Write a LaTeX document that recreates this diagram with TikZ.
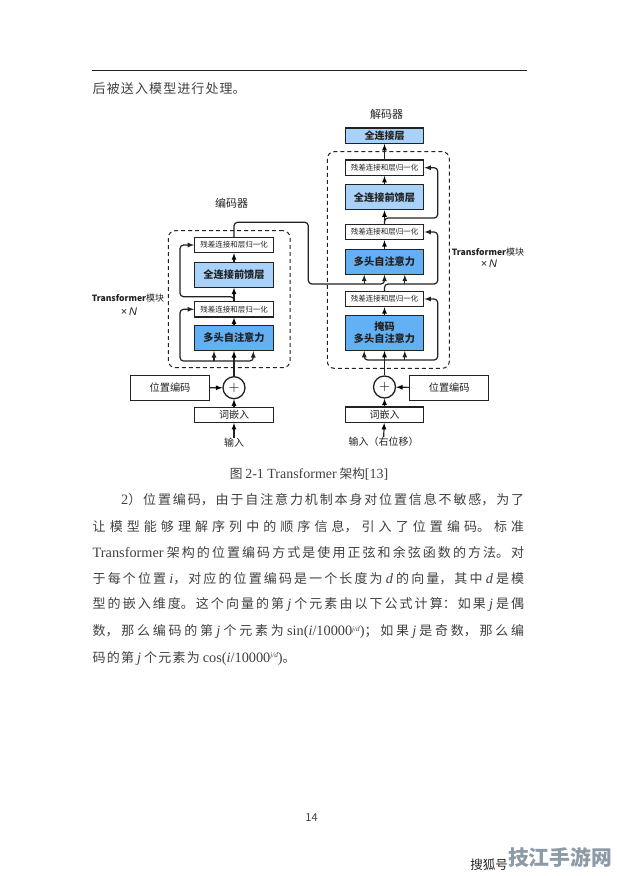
\documentclass[tikz,border=0pt]{standalone}
\usepackage{fontspec}
\setmainfont{Noto Sans CJK SC}
\newfontfamily\latinserif[Scale=1.1]{Liberation Serif}
\newfontfamily\latinsans{Liberation Sans}
\XeTeXlinebreaklocale "zh"
\XeTeXlinebreakskip=0pt plus 12pt
\usetikzlibrary{arrows}
\definecolor{inkdark}{HTML}{222222}
\definecolor{pagetext}{HTML}{404040}
\definecolor{attnblue}{HTML}{64B0F4}
\definecolor{ffnblue}{HTML}{A9D2FA}
\definecolor{markgray}{HTML}{8C9BA6}
\newcommand{\fitline}[2]{\vbox{\hsize=#1\parindent=0pt\parfillskip=0pt\tolerance=10000\emergencystretch=40pt #2\par}}
\newcommand{\lat}[1]{\mbox{\latinserif #1}}
\newcommand{\ita}[1]{\mbox{\latinserif\itshape #1}}
\newcommand{\powjd}{\raisebox{4.5pt}{\fontsize{6.5}{7}\selectfont\ita{j/d}}}
\newcommand{\modulename}{{\bfseries\fontsize{8.6}{10}\selectfont Transformer}{\fontsize{9}{10}\selectfont 模块}}
\newcommand{\timesn}{{\latinsans\fontsize{11}{12}\selectfont ×\,\itshape N}}
\tikzset{
  >=latex,
  wire/.style={draw=inkdark,line width=1.2pt},
  rc/.style={rounded corners=3.5pt},
  plainbox/.style={draw=inkdark,line width=1.2pt,fill=white,minimum width=78.7pt,minimum height=15.3pt,inner sep=0pt,text=inkdark,font=\fontsize{10}{11}\selectfont},
  normbox/.style={plainbox,font=\fontsize{7.5}{8}\selectfont},
  ffnbox/.style={plainbox,fill=ffnblue,minimum height=25pt,font=\bfseries\fontsize{10.2}{12}\selectfont},
  attnbox/.style={plainbox,fill=attnblue,minimum height=25pt,font=\bfseries\fontsize{10.2}{12}\selectfont},
  posbox/.style={plainbox,minimum height=24.7pt,font=\fontsize{10.2}{11}\selectfont},
  plusnode/.style={draw=inkdark,circle,line width=1.3pt,minimum size=22pt,inner sep=0pt,fill=white,font=\fontsize{15}{15}\selectfont},
  blockbox/.style={draw=inkdark,dash pattern=on 4pt off 3pt,line width=1pt,rounded corners=7pt},
  caption/.style={text=inkdark,inner sep=0pt,font=\fontsize{10}{11}\selectfont},
  bodytext/.style={anchor=west,inner sep=0pt,text=pagetext,font=\fontsize{13}{14}\selectfont},
}
\begin{document}
\begin{tikzpicture}[x=1pt,y=-1pt]
  \useasboundingbox (0,0) rectangle (617,876);
  \coordinate (ruleleft) at (92,70);
  \coordinate (ruleright) at (527,70);
  \draw[inkdark,line width=1pt] (ruleleft) -- (ruleright);
  \node[bodytext] (lead) at (92.5,88.5) {\fitline{153pt}{后被送入模型进行处理。}};

  \node[blockbox,minimum width=121.7pt,minimum height=137pt] (eblock) at (229.2,299.2) {};
  \node[blockbox,minimum width=122pt,minimum height=216.6pt] (dblock) at (388.3,260) {};

  \node[plainbox] (eembed) at (234,414.8) {词嵌入};
  \node[plusnode,above of=eembed,node distance=27.1pt] (eplus) {$+$};
  \node[attnbox,above of=eplus,node distance=49.7pt] (emha) {多头自注意力};
  \node[normbox,above of=emha,node distance=28.7pt] (enorma) {残差连接和层归一化};
  \node[ffnbox,above of=enorma,node distance=34.6pt] (effn) {全连接前馈层};
  \node[normbox,above of=effn,node distance=29.7pt] (enormb) {残差连接和层归一化};
  \node[posbox] (epos) at (170,388) {位置编码};
  \node[caption] (einput) at (234,442.7) {输入};
  \node[caption,font=\fontsize{11}{12}\selectfont] (etitle) at (231.7,203.3) {编码器};
  \node[caption] (elabel) at (128,298) {\modulename};
  \node[caption] (etimes) at (129,311.5) {\timesn};

  \node[plainbox] (dembed) at (384.5,414.7) {词嵌入};
  \node[plusnode,above of=dembed,node distance=27.7pt] (dplus) {$+$};
  \node[attnbox,above of=dplus,node distance=54pt,minimum height=34.7pt,align=center] (dmask) {掩码\\多头自注意力};
  \node[normbox,above of=dmask,node distance=34pt] (dnorma) {残差连接和层归一化};
  \node[attnbox,above of=dnorma,node distance=37.3pt] (dmha) {多头自注意力};
  \node[normbox,above of=dmha,node distance=29.7pt] (dnormb) {残差连接和层归一化};
  \node[ffnbox,above of=dnormb,node distance=34.7pt] (dffn) {全连接前馈层};
  \node[normbox,above of=dffn,node distance=29.6pt] (dnormc) {残差连接和层归一化};
  \node[plainbox,fill=ffnblue,above of=dnormc,node distance=32pt,font=\bfseries\fontsize{10}{11}\selectfont] (dfc) {全连接层};
  \node[posbox] (dpos) at (449.2,388) {位置编码};
  \node[caption] (dinput) at (383.5,442) {输入（右位移）};
  \node[caption,font=\fontsize{11}{12}\selectfont] (dtitle) at (386.7,114.3) {解码器};
  \node[caption] (dlabel) at (488,251.7) {\modulename};
  \node[caption] (dtimes) at (489,264) {\timesn};

  \coordinate (ebusa) at (180,361);
  \coordinate (ebusb) at (214,361);
  \coordinate (ebusc) at (180,296.7);
  \coordinate (crossa) at (308.3,222.3);
  \coordinate (dbusa) at (384.5,284);
  \coordinate (dbusb) at (364.2,284);
  \coordinate (dbusc) at (437.7,284);
  \coordinate (dbusd) at (404.8,284);
  \coordinate (dbuse) at (437.7,360);
  \coordinate (dbusf) at (404.8,360);
  \coordinate (dbusg) at (437.7,218);

  \path[->,wire] (einput) edge (eembed);
  \path[->,wire] (eembed) edge (eplus);
  \path[->,wire] (eplus) edge (emha);
  \path[->,wire] (epos) edge (eplus);
  \path[->,wire] (emha) edge (enorma);
  \path[->,wire] (enorma) edge (effn);
  \path[->,wire] (effn) edge (enormb);
  \draw[<->,wire,rc] ([xshift=19.3pt]emha.south) |- (ebusa) |- (enorma.west);
  \draw[->,wire] (ebusb) -- ([xshift=-20pt]emha.south);
  \draw[->,wire,rc] (enorma.north) |- (ebusc) |- (enormb.west);
  \draw[->,wire,rc] (enormb.north) |- (crossa) |- (dbusa) -- (dmha.south);

  \path[->,wire] (dinput) edge (dembed);
  \path[->,wire] (dembed) edge (dplus);
  \path[->,wire] (dplus) edge (dmask);
  \path[->,wire] (dpos) edge (dplus);
  \path[->,wire] (dmask) edge (dnorma);
  \path[->,wire] (dmha) edge (dnormb);
  \path[->,wire] (dnormb) edge (dffn);
  \path[->,wire] (dffn) edge (dnormc);
  \path[->,wire] (dnormc) edge (dfc);
  \draw[<->,wire,rc] ([xshift=-20.3pt]dmask.south) |- (dbuse) |- (dnorma.east);
  \draw[->,wire] (dbusf) -- ([xshift=20.3pt]dmask.south);
  \draw[->,wire,rc] (dnorma.north) |- (dbusc) |- (dnormb.east);
  \draw[->,wire] (dbusb) -- ([xshift=-20.3pt]dmha.south);
  \draw[->,wire] (dbusd) -- ([xshift=20.3pt]dmha.south);
  \draw[->,wire,rc] (dnormb.north) |- (dbusg) |- (dnormc.east);

  \node[bodytext,anchor=center,font=\fontsize{12.7}{14}\selectfont] (figcap) at (309,474) {图 \lat{2-1 Transformer} 架构\lat{[13]}};
  \node[bodytext] (linea) at (121,500) {\fitline{403pt}{\lat{2}）位置编码，由于自注意力机制本身对位置信息不敏感，为了}};
  \node[bodytext] (lineb) at (92.5,526.7) {\fitline{431.5pt}{让模型能够理解序列中的顺序信息，引入了位置编码。标准}};
  \node[bodytext] (linec) at (92.5,552.7) {\fitline{431.5pt}{\lat{Transformer} 架构的位置编码方式是使用正弦和余弦函数的方法。对}};
  \node[bodytext] (lined) at (92.5,579) {\fitline{431.5pt}{于每个位置 \ita{i}，对应的位置编码是一个长度为 \ita{d} 的向量，其中 \ita{d} 是模}};
  \node[bodytext] (linee) at (92.5,605) {\fitline{431.5pt}{型的嵌入维度。这个向量的第 \ita{j} 个元素由以下公式计算：如果 \ita{j} 是偶}};
  \node[bodytext] (linef) at (92.5,631.7) {\fitline{431.5pt}{数，那么编码的第 \ita{j} 个元素为 \lat{sin(}\ita{i}\lat{/10000}\powjd\lat{)}；如果 \ita{j} 是奇数，那么编}};
  \node[bodytext] (lineg) at (92.5,658.3) {\fitline{203pt}{码的第 \ita{j} 个元素为 \lat{cos(}\ita{i}\lat{/10000}\powjd\lat{)}。}};

  \node[bodytext,anchor=center,font=\fontsize{11}{12}\selectfont] (pagenum) at (311.5,818) {14};
  \node[bodytext,anchor=center,text=inkdark,font=\fontsize{12.5}{13}\selectfont] (sohu) at (489,865) {搜狐号};
  \node[bodytext,anchor=center,text=markgray,font=\bfseries\fontsize{20.8}{22}\selectfont] (watermark) at (560,857) {技江手游网};
\end{tikzpicture}
\end{document}
